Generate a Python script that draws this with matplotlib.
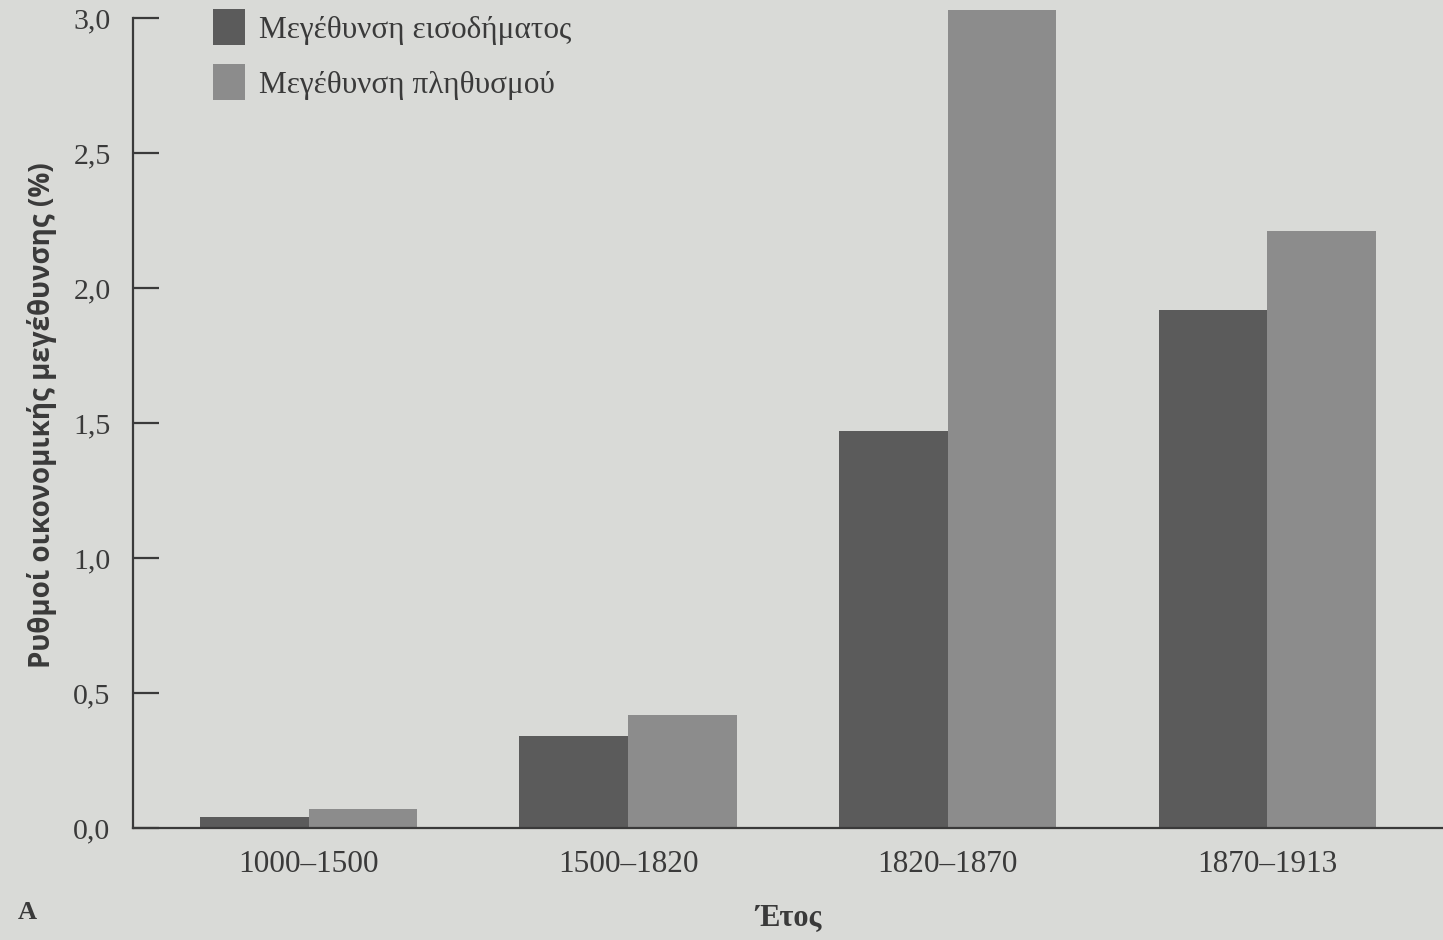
import numpy as np
from matplotlib import pyplot as plt

# Data
periods = ['1000–1500', '1500–1820', '1820–1870', '1870–1913']
income_growth = [0.04, 0.34, 1.47, 1.92]
population_growth = [0.07, 0.42, 3.03, 2.21]
yticks = [0.0, 0.5, 1.0, 1.5, 2.0, 2.5, 3.0]
ytick_labels = ['0,0', '0,5', '1,0', '1,5', '2,0', '2,5', '3,0']

paper = '#d9dad7'
ink = '#3a3a3a'

plt.rcParams['font.family'] = ['Liberation Serif', 'DejaVu Serif']

fig = plt.figure(figsize=(14.43, 9.40), dpi=100, facecolor=paper)
ax = fig.add_axes([0.092, 0.119, 0.908, 0.879], facecolor=paper)

x = np.arange(len(periods))
w = 0.34
ax.bar(x - w / 2, income_growth, w, color='#5b5b5b', label='Μεγέθυνση εισοδήματος')
ax.bar(x + w / 2, population_growth, w, color='#8c8c8c', label='Μεγέθυνση πληθυσμού')

ax.set_xlim(-0.55, 3.55)
ax.set_ylim(0, 3.06)

for s in ['top', 'right']:
    ax.spines[s].set_visible(False)
ax.spines['left'].set_bounds(0, 3.0)
for s in ['left', 'bottom']:
    ax.spines[s].set_color(ink)
    ax.spines[s].set_linewidth(1.6)

ax.set_yticks(yticks)
ax.set_yticklabels(ytick_labels, fontsize=21.5, color=ink)
ax.tick_params(axis='y', direction='in', length=19, width=1.6, color=ink, pad=16)

ax.set_xticks(x)
ax.set_xticklabels(periods, fontsize=22.5, color=ink)
ax.tick_params(axis='x', length=0, pad=16)

ax.set_ylabel('Ρυθμοί οικονομικής μεγέθυνσης (%)', fontsize=20, fontweight='bold',
              family=['Open Sans', 'DejaVu Sans'], color=ink, labelpad=12)
ax.set_xlabel('Έτος', fontsize=22, fontweight='bold', color=ink, labelpad=18)

fig.text(0.012, 0.022, 'A', fontsize=19, fontweight='bold', color=ink)

ax.legend(loc='upper left', bbox_to_anchor=(0.040, 1.025), frameon=False,
          fontsize=22.5, handlelength=1.0, handleheight=1.4, labelspacing=0.6,
          handletextpad=0.45, labelcolor=ink)

fig.savefig('out.png', dpi=100, facecolor=paper)
